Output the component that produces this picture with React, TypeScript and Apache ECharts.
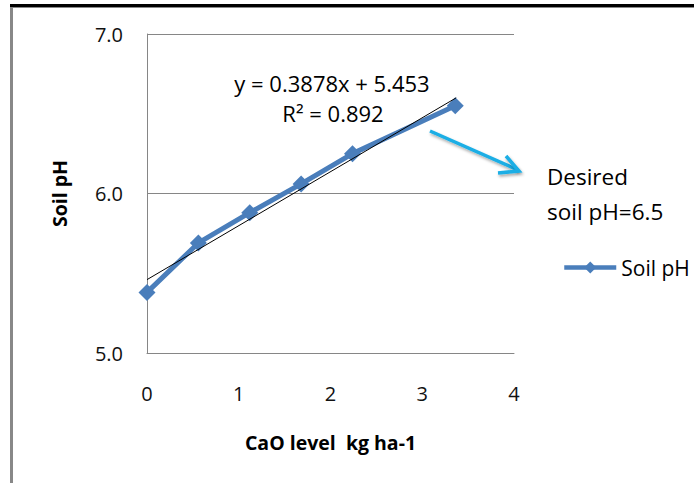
import React, { useEffect, useRef } from "react";
import * as echarts from "echarts";

const caoLevel = [0, 0.56, 1.12, 1.68, 2.24, 3.36];
const soilPH = [5.38, 5.69, 5.88, 6.06, 6.25, 6.55];
const trendX = [0, 3.37];
const trendY = [5.46, 6.6];
const equationText = "y = 0.3878x + 5.453";
const r2Text = "R\u00B2 = 0.892";
const noteLines = ["Desired", "soil pH=6.5"];

const FONT = "Open Sans";

export default function App() {
  const ref = useRef<HTMLDivElement>(null);
  useEffect(() => {
    const chart = echarts.init(ref.current!, null, { renderer: "svg" });
    chart.setOption({
      animation: false,
      backgroundColor: "#ffffff",
      textStyle: { fontFamily: FONT },
      grid: { left: 147, right: 180, top: 34, bottom: 130 },
      legend: {
        data: ["Soil pH"],
        left: 557,
        top: 252,
        itemWidth: 52,
        itemHeight: 15,
        itemGap: 4,
        lineStyle: { width: 4.5 },
        textStyle: { fontFamily: FONT, fontSize: 21, color: "#000" },
      },
      xAxis: {
        type: "value",
        min: 0,
        max: 4,
        interval: 1,
        name: "CaO level  kg ha-1",
        nameLocation: "middle",
        nameGap: 79,
        nameTextStyle: { fontFamily: FONT, fontSize: 19.5, fontWeight: "bold", color: "#000" },
        axisLine: { show: true, lineStyle: { color: "#868686", width: 1 } },
        axisTick: { show: false },
        splitLine: { show: false },
        axisLabel: { fontFamily: FONT, fontSize: 20, color: "#111", margin: 30 },
      },
      yAxis: {
        type: "value",
        min: 5,
        max: 7,
        interval: 1,
        name: "Soil pH",
        nameLocation: "middle",
        nameGap: 78,
        nameTextStyle: { fontFamily: FONT, fontSize: 19.5, fontWeight: "bold", color: "#000" },
        axisLine: { show: true, lineStyle: { color: "#868686", width: 1 } },
        axisTick: { show: false },
        splitLine: { show: true, lineStyle: { color: "#868686", width: 1 } },
        axisLabel: {
          fontFamily: FONT,
          fontSize: 20,
          color: "#111",
          margin: 24,
          formatter: (v: number) => v.toFixed(1),
        },
      },
      series: [
        {
          name: "Soil pH",
          type: "line",
          data: caoLevel.map((x, i) => [x, soilPH[i]]),
          symbol: "diamond",
          symbolSize: 17,
          lineStyle: { color: "#4a7ebb", width: 5 },
          itemStyle: { color: "#4a7ebb" },
          z: 2,
        },
        {
          name: "trend",
          type: "line",
          data: trendX.map((x, i) => [x, trendY[i]]),
          symbol: "none",
          lineStyle: { color: "#000", width: 1 },
          z: 3,
        },
      ],
      graphic: [
        { type: "rect", shape: { x: 10, y: 4, width: 684, height: 3 }, style: { fill: "#000" } },
        { type: "rect", shape: { x: 10, y: 7, width: 684, height: 1 }, style: { fill: "#888" } },
        { type: "rect", shape: { x: 10, y: 7, width: 3, height: 476 }, style: { fill: "#888" } },
        {
          type: "text",
          x: 332,
          y: 83,
          style: { text: equationText, fontFamily: FONT, fontSize: 22, fill: "#000", align: "center", verticalAlign: "middle" },
        },
        {
          type: "text",
          x: 333,
          y: 113,
          style: { text: r2Text, fontFamily: FONT, fontSize: 22, fill: "#000", align: "center", verticalAlign: "middle" },
        },
        {
          type: "text",
          x: 547,
          y: 176,
          style: { text: noteLines[0], fontFamily: FONT, fontSize: 22.5, fill: "#000", align: "left", verticalAlign: "middle" },
        },
        {
          type: "text",
          x: 547,
          y: 211,
          style: { text: noteLines[1], fontFamily: FONT, fontSize: 22.5, fill: "#000", align: "left", verticalAlign: "middle" },
        },
        {
          type: "line",
          shape: { x1: 430, y1: 131, x2: 518, y2: 170 },
          style: { stroke: "#1aaee5", lineWidth: 3.5, shadowBlur: 3, shadowOffsetX: 1, shadowOffsetY: 2, shadowColor: "rgba(0,0,0,0.35)" },
        },
        {
          type: "polyline",
          shape: { points: [[506, 156], [519, 171], [498, 173]] },
          style: { stroke: "#1aaee5", lineWidth: 3.5, fill: "none", shadowBlur: 3, shadowOffsetX: 1, shadowOffsetY: 2, shadowColor: "rgba(0,0,0,0.35)" },
        },
      ],
    });
    return () => chart.dispose();
  }, []);
  return (
    <div
      ref={ref}
      style={{ position: "absolute", left: 0, top: 0, width: 694, height: 483 }}
    />
  );
}
